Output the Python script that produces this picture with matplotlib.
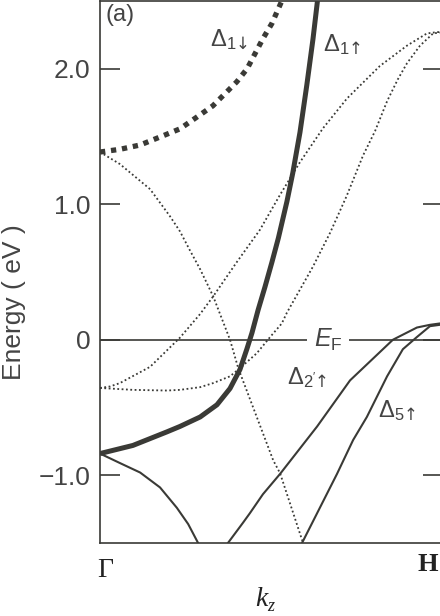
import matplotlib
matplotlib.use("Agg")
import matplotlib.pyplot as plt

plt.rcParams['font.family'] = ['Liberation Sans', 'DejaVu Sans']
plt.rcParams['mathtext.fontset'] = 'custom'
plt.rcParams['mathtext.rm'] = 'Liberation Sans'
plt.rcParams['mathtext.it'] = 'Liberation Sans:italic'
plt.rcParams['mathtext.bf'] = 'Liberation Sans:bold'
plt.rcParams['mathtext.sf'] = 'DejaVu Sans'

INK = '#3a3a36'
TXT = '#444444'

# bands along Gamma -> H (k in units of the zone length, energy in eV)
d1dn_k = [0.0, 0.058, 0.117, 0.175, 0.233, 0.283, 0.329, 0.370, 0.399,
          0.429, 0.452, 0.475, 0.501, 0.530]
d1dn_e = [1.385, 1.405, 1.437, 1.496, 1.556, 1.644, 1.726, 1.830, 1.904,
          2.00, 2.111, 2.222, 2.333, 2.50]

d1up_k = [0.0, 0.096, 0.195, 0.233, 0.292, 0.341, 0.379, 0.408, 0.428, 0.443,
          0.461, 0.481, 0.501, 0.520, 0.545, 0.562, 0.583, 0.603, 0.621, 0.634]
d1up_e = [-0.84, -0.78, -0.68, -0.64, -0.57, -0.48, -0.36, -0.22, -0.07, 0.05,
          0.22, 0.39, 0.57, 0.75, 1.02, 1.23, 1.53, 1.88, 2.22, 2.50]

dotA_k = [0.0, 0.058, 0.146, 0.204, 0.233, 0.262, 0.292, 0.330, 0.379, 0.403,
          0.457, 0.505, 0.525, 0.592]
dotA_e = [1.385, 1.296, 1.111, 0.911, 0.80, 0.66, 0.52, 0.32, 0.0, -0.21,
          -0.57, -0.89, -0.985, -1.50]

dotB_k = [0.0, 0.029, 0.058, 0.146, 0.233, 0.292, 0.330, 0.398, 0.466, 0.525,
          0.583, 0.650, 0.720, 0.816, 0.895, 0.953, 0.983, 1.0]
dotB_e = [-0.356, -0.345, -0.32, -0.20, 0.015, 0.19, 0.32, 0.57, 0.81, 1.07,
          1.31, 1.56, 1.78, 2.02, 2.17, 2.26, 2.27, 2.27]

dotC_k = [0.0, 0.096, 0.195, 0.233, 0.292, 0.330, 0.379, 0.408, 0.457, 0.496,
          0.530, 0.545, 0.583, 0.621, 0.671, 0.719, 0.767, 0.802, 0.837, 0.868,
          0.895, 0.933, 0.971, 1.0]
dotC_e = [-0.356, -0.37, -0.375, -0.37, -0.35, -0.32, -0.27, -0.21, -0.10, 0.02,
          0.12, 0.20, 0.37, 0.54, 0.79, 1.06, 1.36, 1.54, 1.76, 1.92,
          2.04, 2.17, 2.26, 2.27]

low_k = [0.0, 0.058, 0.117, 0.175, 0.224, 0.257, 0.286]
low_e = [-0.84, -0.91, -0.98, -1.09, -1.24, -1.36, -1.50]

d2up_k = [0.373, 0.417, 0.437, 0.475, 0.525, 0.633, 0.729, 0.854, 0.924, 0.962, 0.991, 1.0]
d2up_e = [-1.50, -1.35, -1.28, -1.14, -0.99, -0.64, -0.30, 0.0, 0.09, 0.11, 0.12, 0.12]

d5up_k = [0.589, 0.633, 0.691, 0.738, 0.778, 0.837, 0.883, 0.924, 0.962, 0.991, 1.0]
d5up_e = [-1.50, -1.28, -0.99, -0.74, -0.57, -0.27, -0.07, 0.02, 0.10, 0.11, 0.12]

yticks = [-1.0, 0.0, 1.0, 2.0]
ytick_labels = ['\u22121.0', '0', '1.0', '2.0']

fig = plt.figure(figsize=(4.4, 6.16), dpi=100)
ax = fig.add_axes([0.2273, 0.1185, 0.7795, 0.880])

ax.axhline(0.0, color=INK, lw=1.2, zorder=1)

dot = (0, (1, 1.4))
for k, e in [(dotA_k, dotA_e), (dotB_k, dotB_e), (dotC_k, dotC_e)]:
    ax.plot(k, e, color=INK, lw=1.3, linestyle=dot, zorder=2)

ax.plot(d1dn_k, d1dn_e, color=INK, lw=3.8, linestyle=(0, (1, 1.1)), zorder=3)
ax.plot(d1up_k, d1up_e, color=INK, lw=3.6, solid_capstyle='butt',
        solid_joinstyle='round', zorder=3)
for k, e in [(low_k, low_e), (d2up_k, d2up_e), (d5up_k, d5up_e)]:
    ax.plot(k, e, color=INK, lw=1.5, zorder=3)

ax.set_xlim(0, 1)
ax.set_ylim(-1.5, 2.5)
ax.set_xticks([])
ax.set_yticks(yticks)
ax.set_yticklabels(ytick_labels)
ax.tick_params(axis='y', direction='in', length=14.5, width=1.2, color=INK,
               labelsize=19, labelcolor=TXT, pad=7, right=True)
for s in ax.spines.values():
    s.set_color(INK)
    s.set_linewidth(1.2)

ax.set_ylabel('Energy ( eV )', fontsize=19, color=TXT)
ax.yaxis.set_label_coords(-0.215, 0.445)

ax.text(0.015, 0.995, '(a)', transform=ax.transAxes, ha='left', va='top',
        fontsize=17, color=TXT)

lab = dict(fontsize=17, color=TXT, ha='left', va='baseline')
ax.text(0.321, 2.16, '$\\mathrm{\\Delta}_{\\mathrm{1}\\mathsf{↓}}$', **lab)
ax.text(0.650, 2.13, '$\\mathrm{\\Delta}_{\\mathrm{1}\\mathsf{↑}}$', **lab)
ax.text(0.545, -0.33, "$\\mathrm{\\Delta}_{\\mathrm{2'}\\mathsf{↑}}$", **lab)
ax.text(0.810, -0.57, '$\\mathrm{\\Delta}_{\\mathrm{5}\\mathsf{↑}}$', **lab)
ax.text(0.665, -0.05, '$\\mathit{E}_{\\mathrm{F}}$', fontsize=18, color=TXT,
        ha='center', va='baseline', zorder=4,
        bbox=dict(facecolor='white', edgecolor='none', pad=5))

# zone points and k axis label
ax.text(0.015, -0.05, '\u0393', transform=ax.transAxes, ha='center', va='center',
        fontsize=20, family='Liberation Serif', color='#222222')
ax.text(0.955, -0.04, 'H', transform=ax.transAxes, ha='center', va='center',
        fontsize=19, family='Liberation Serif', weight='bold', color='#222222')
ax.text(0.47, -0.105, 'k', transform=ax.transAxes, ha='center', va='center',
        fontsize=20, family='Liberation Serif', style='italic', color='#222222')
ax.text(0.497, -0.118, 'z', transform=ax.transAxes, ha='center', va='center',
        fontsize=13, family='Liberation Serif', style='italic', color='#222222')

fig.savefig('out.png', dpi=100)
